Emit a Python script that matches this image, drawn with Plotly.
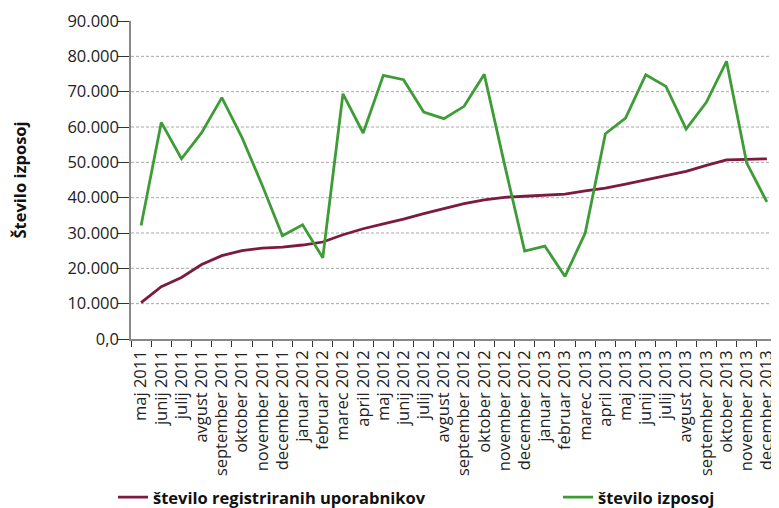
import plotly.graph_objects as go

months = ["maj 2011", "junij 2011", "julij 2011", "avgust 2011", "september 2011",
          "oktober 2011", "november 2011", "december 2011", "januar 2012", "februar 2012",
          "marec 2012", "april 2012", "maj 2012", "junij 2012", "julij 2012",
          "avgust 2012", "september 2012", "oktober 2012", "november 2012", "december 2012",
          "januar 2013", "februar 2013", "marec 2013", "april 2013", "maj 2013",
          "junij 2013", "julij 2013", "avgust 2013", "september 2013", "oktober 2013",
          "november 2013", "december 2013"]

registrirani = [10300, 14800, 17400, 21100, 23600, 25000, 25700, 26000, 26600, 27450,
                29500, 31200, 32600, 33900, 35500, 36900, 38300, 39400, 40100, 40400,
                40700, 41000, 41900, 42700, 43800, 45000, 46100, 47450, 49150, 50700,
                50850, 51000]

izposoje = [32100, 61300, 51000, 58400, 68300, 57000, 43500, 29200, 32300, 23000,
            69400, 58300, 74600, 73400, 64250, 62350, 65850, 74900, 49500, 24900,
            26300, 17700, 30000, 58100, 62500, 74800, 71500, 59400, 67000, 78600,
            49800, 38800]

y_ticks = [0, 10000, 20000, 30000, 40000, 50000, 60000, 70000, 80000, 90000]
y_ticktext = ["0,0", "10.000", "20.000", "30.000", "40.000", "50.000",
              "60.000", "70.000", "80.000", "90.000"]
grid_vals = [10000, 20000, 30000, 40000, 50000, 60000, 70000, 80000]

FONT = "Open Sans, Noto Sans, sans-serif"
FS = 16.5

fig = go.Figure()
fig.add_trace(go.Scatter(
    x=months, y=registrirani, mode="lines", name="število registriranih uporabnikov",
    line=dict(color="#7d1a40", width=2.8), legend="legend"))
fig.add_trace(go.Scatter(
    x=months, y=izposoje, mode="lines", name="število izposoj",
    line=dict(color="#3e9c37", width=2.8), legend="legend2"))

for v in grid_vals:
    fig.add_shape(type="line", xref="paper", x0=0, x1=1, yref="y", y0=v, y1=v,
                  line=dict(color="#a8a8a8", width=1, dash="3px,2px"), layer="below")

# the page body adds an 8px offset, so the figure is 771x500
W, H = 771, 500
L, T, B = 123, 13, 169
PW = W - L
fig.update_layout(
    width=W, height=H,
    margin=dict(l=L, r=0, t=T, b=B, autoexpand=False),
    paper_bgcolor="white", plot_bgcolor="white",
    font=dict(family=FONT, size=FS, color="#222222"),
    xaxis=dict(
        type="category", range=[-0.5, 31.6], tickangle=-90, automargin=False,
        tickson="boundaries", ticks="outside", ticklen=6, tickcolor="#333333",
        ticklabelstandoff=3,
        showgrid=False, showline=True, linecolor="#888888", linewidth=1.5,
        tickfont=dict(size=FS, color="#222222"), zeroline=False,
    ),
    yaxis=dict(
        range=[0, 90000], tickvals=y_ticks, ticktext=y_ticktext, automargin=False,
        ticks="outside", ticklen=12, tickcolor="#333333", ticklabelstandoff=-5,
        showgrid=False, showline=True, linecolor="#888888", linewidth=1.5,
        zeroline=False, tickfont=dict(size=FS, color="#222222"),
        title=dict(text="<b>Število izposoj</b>", font=dict(size=FS, color="#111111"),
                   standoff=40),
    ),
    legend=dict(orientation="h", x=(113 - 131) / PW, xanchor="left", y=-0.498,
                yanchor="middle",
                font=dict(size=FS, color="#111111", weight="bold"),
                bgcolor="rgba(0,0,0,0)"),
    legend2=dict(orientation="h", x=(558 - 131) / PW, xanchor="left", y=-0.498,
                 yanchor="middle",
                 font=dict(size=FS, color="#111111", weight="bold"),
                 bgcolor="rgba(0,0,0,0)"),
    showlegend=True,
)

fig.write_html("out.html")
